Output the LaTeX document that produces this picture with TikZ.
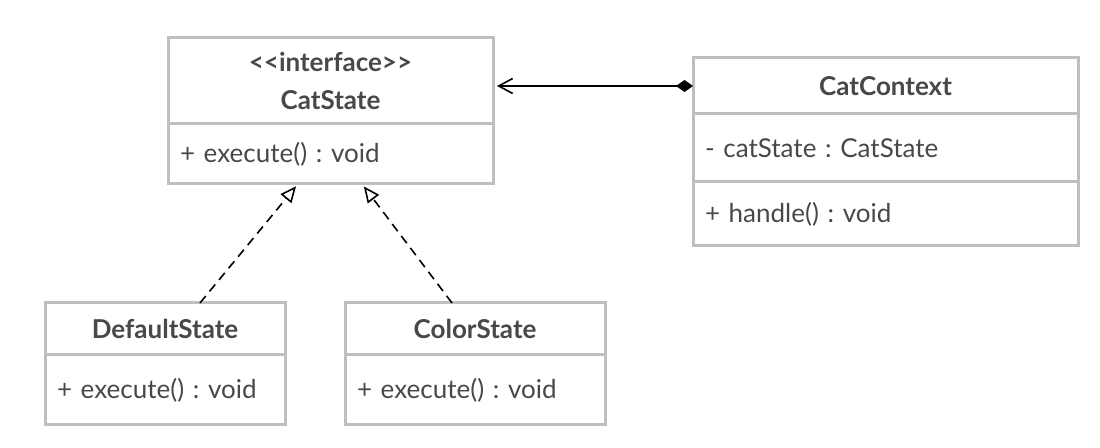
\documentclass[tikz,border=0pt]{standalone}
\usepackage{fontspec}
\newfontfamily\umlfont{Lato}
\usepackage{xcolor}
\definecolor{BorderColor}{RGB}{189,191,193}
\definecolor{TextColor}{RGB}{72,72,74}
\usetikzlibrary{positioning, arrows.meta}
\frenchspacing

\begin{document}
\begin{tikzpicture}[
    x=1pt, y=1pt,
    box/.style={rectangle, draw=BorderColor, line width=1.5pt, outer sep=0pt, inner ysep=0pt, text=TextColor, font=\umlfont\fontsize{13}{19}\selectfont},
    classname/.style={box, align=center, font=\umlfont\bfseries\fontsize{13}{19}\selectfont},
    members/.style={box, align=left, inner xsep=6pt},
    assoc/.style={line width=0.8pt, {Diamond[length=8.5pt,width=6pt]}-{Straight Barb[length=7pt,width=7.5pt]}, shorten >=2pt},
    realize/.style={line width=0.8pt, dash pattern=on 4.5pt off 3pt, -{Triangle[open,length=8pt,width=7pt]}, shorten >=1.5pt},
]
\useasboundingbox (0,0) rectangle (550,224);

% ============================================
% INTERFACE
% ============================================
\node[classname, minimum width=162.5pt, minimum height=43pt] (catstate) at (165.25,183.5) {
    <<interface>>\\
    CatState
};
\node[members, text width=150.5pt, minimum height=30pt, below=0pt of catstate] (catstateops) {+ execute() : void};

% ============================================
% CONTEXT
% ============================================
\node[classname, minimum width=192.5pt, minimum height=28pt] (catcontext) at (442.75,181) {CatContext};
\node[members, text width=180.5pt, minimum height=34pt, below=0pt of catcontext] (catcontextattr) {- catState : CatState};
\node[members, text width=180.5pt, minimum height=32pt, below=0pt of catcontextattr] (catcontextops) {+ handle() : void};

% ============================================
% CONCRETE STATES
% ============================================
\node[classname, minimum width=120pt, minimum height=26pt] (defaultstate) at (82.5,59.5) {DefaultState};
\node[members, text width=108pt, minimum height=35pt, below=0pt of defaultstate] (defaultstateops) {+ execute() : void};

\node[classname, minimum width=130pt, minimum height=26pt] (colorstate) at (237.5,59.5) {ColorState};
\node[members, text width=118pt, minimum height=35pt, below=0pt of colorstate] (colorstateops) {+ execute() : void};

% ============================================
% ARROWS
% ============================================
\draw[assoc] (catcontext.west) -- (catcontext.west -| catstate.east);
\draw[realize] ([xshift=17.5pt]defaultstate.north) -- ([xshift=-16.25pt]catstateops.south);
\draw[realize] ([xshift=-11.5pt]colorstate.north) -- ([xshift=15.75pt]catstateops.south);

\end{tikzpicture}
\end{document}
